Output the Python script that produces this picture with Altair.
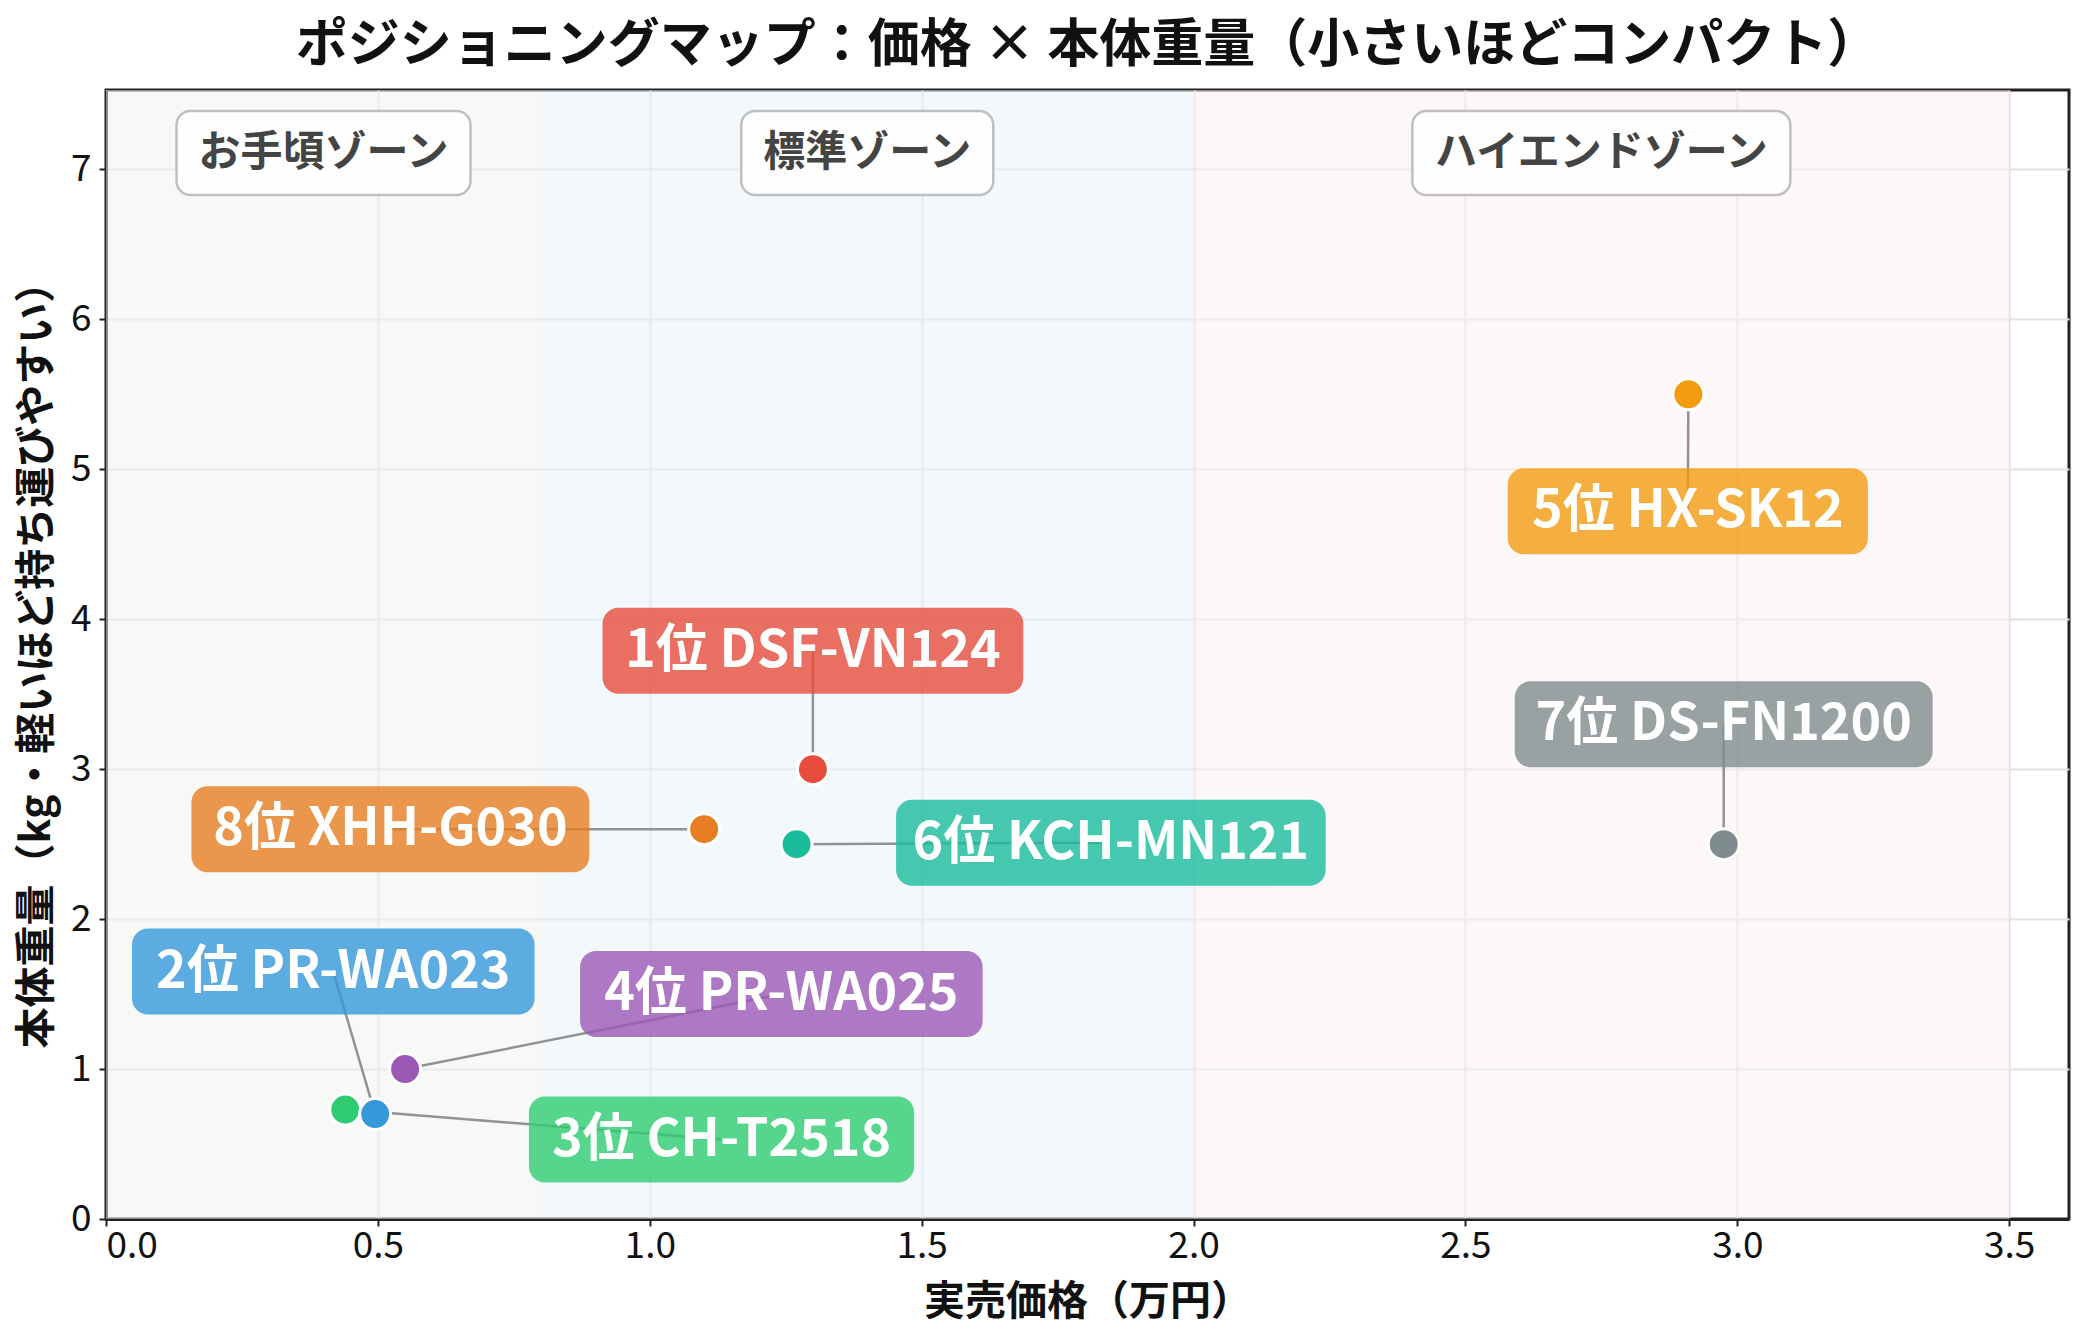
import altair as alt
import pandas as pd

# ---------------- data ----------------
ranks = ["1位", "2位", "3位", "4位", "5位", "6位", "7位", "8位"]
models = ["DSF-VN124", "PR-WA023", "CH-T2518", "PR-WA025", "HX-SK12", "KCH-MN121", "DS-FN1200", "XHH-G030"]
price = [1.30, 0.495, 0.44, 0.55, 2.91, 1.27, 2.975, 1.10]          # 万円
weight = [3.0, 0.70, 0.73, 1.0, 5.5, 2.5, 2.5, 2.6]                 # kg
label_x = [1.30, 0.418, 1.132, 1.242, 2.909, 1.848, 2.975, 0.523]
label_y = [3.79, 1.65, 0.53, 1.50, 4.72, 2.51, 3.30, 2.60]
colors = ["#e74c3c", "#3498db", "#2ecc71", "#9b59b6", "#f39c12", "#1abc9c", "#7f8c8d", "#e67e22"]

zone_names = ["お手頃ゾーン", "標準ゾーン", "ハイエンドゾーン"]
zone_start = [0.0, 0.8, 2.0]
zone_end = [0.8, 2.0, 3.5]
zone_label_x = [0.40, 1.40, 2.75]
zone_label_y = [7.11, 7.11, 7.11]
zone_fill = ["#eff4ef", "#e7f1fa", "#fbefef"]

x_ticks = [0.0, 0.5, 1.0, 1.5, 2.0, 2.5, 3.0, 3.5]
y_ticks = [0, 1, 2, 3, 4, 5, 6, 7]
x_domain = [0, 3.61]
y_domain = [0, 7.53]

title_text = "ポジショニングマップ：価格 × 本体重量（小さいほどコンパクト）"
x_title = "実売価格（万円）"
y_title = "本体重量（kg・軽いほど持ち運びやすい）"

# ---------------- layout / style ----------------
W, H = 1963, 1129
FONT = "Noto Sans CJK JP"
LABEL_FS = 52
ZONE_FS = 42

df = pd.DataFrame({
    "rank": ranks, "model": models, "price": price, "weight": weight,
    "lx": label_x, "ly": label_y,
})
df["label"] = df["rank"] + " " + df["model"]

zones = pd.DataFrame({
    "zone": zone_names, "zs": zone_start, "ze": zone_end,
    "zx": zone_label_x, "zy": zone_label_y, "fill": zone_fill,
})

LAT = {"D": .70, "S": .62, "F": .57, "V": .63, "N": .72, "P": .65, "R": .66, "W": .92,
       "A": .66, "C": .67, "H": .73, "T": .58, "X": .63, "K": .67, "G": .71, "-": .36, " ": .23}


def text_w(s, fs):
    w = 0.0
    for ch in s:
        if ch.isdigit():
            w += .575
        elif ch in LAT:
            w += LAT[ch]
        elif ord(ch) < 128:
            w += .62
        else:
            w += 1.0
    return w * fs


xscale = alt.Scale(domain=x_domain, nice=False, zero=False)
yscale = alt.Scale(domain=y_domain, nice=False, zero=False)
xaxis = alt.Axis(values=x_ticks, format=".1f", title=x_title, grid=True)
yaxis = alt.Axis(values=y_ticks, format="d", title=y_title, grid=True)


def X(f):
    return alt.X(f, type="quantitative", scale=xscale, axis=xaxis)


def Y(f):
    return alt.Y(f, type="quantitative", scale=yscale, axis=yaxis)


layers = []

# zone backgrounds
layers.append(
    alt.Chart(zones).mark_rect(opacity=0.5).encode(
        x=X("zs"), x2="ze",
        fill=alt.Fill("fill:N", scale=None),
    )
)

# zone label boxes + text
for i in range(len(zone_names)):
    bw = text_w(zone_names[i], ZONE_FS) + ZONE_FS
    layers.append(
        alt.Chart(zones.iloc[[i]]).mark_rect(
            width=bw, height=84, cornerRadius=14, fill="white",
            stroke="#bdbdbd", strokeWidth=2.5, opacity=0.95,
        ).encode(x=X("zx"), y=Y("zy"))
    )
layers.append(
    alt.Chart(zones).mark_text(
        font=FONT, fontSize=ZONE_FS, fontWeight="bold", color="#444444",
        align="center", baseline="middle",
    ).encode(x=X("zx"), y=Y("zy"), text="zone:N")
)

# leader lines
layers.append(
    alt.Chart(df).mark_rule(color="#808080", strokeWidth=2.5, opacity=0.85).encode(
        x=X("price"), y=Y("weight"), x2="lx", y2="ly",
    )
)

# label boxes
for i in range(len(ranks)):
    bw = text_w(df.loc[i, "label"], LABEL_FS) + 50
    layers.append(
        alt.Chart(df.iloc[[i]]).mark_rect(
            width=bw, height=86, cornerRadius=16, color=colors[i], opacity=0.8,
        ).encode(x=X("lx"), y=Y("ly"))
    )

# label text
layers.append(
    alt.Chart(df).mark_text(
        font=FONT, fontSize=LABEL_FS, fontWeight="bold", color="white",
        align="center", baseline="middle",
    ).encode(x=X("lx"), y=Y("ly"), text="label:N")
)

# points (drawn in reverse rank order so higher ranks sit on top)
layers.append(
    alt.Chart(df.iloc[::-1]).mark_point(
        filled=True, size=960, opacity=1, stroke="white", strokeWidth=3,
    ).encode(
        x=X("price"), y=Y("weight"),
        fill=alt.Fill("rank:N", scale=alt.Scale(domain=ranks, range=colors), legend=None),
    )
)

chart = alt.layer(*layers).properties(
    width=W, height=H,
    title=alt.TitleParams(title_text, font=FONT, fontSize=52, fontWeight="bold",
                          color="#111111", anchor="middle", offset=17),
    autosize=alt.AutoSizeParams(type="none"),
    padding={"left": 106, "top": 90, "right": 15, "bottom": 115},
).configure_view(
    stroke="#222222", strokeWidth=3,
).configure_axis(
    domainColor="#222222", domainWidth=3,
    tickColor="#222222", tickWidth=2, tickSize=7,
    labelFont=FONT, labelFontSize=37, labelColor="#111111",
    titleFont=FONT, titleFontSize=41, titleFontWeight="bold", titleColor="#111111",
    gridColor="#e2e2e2", gridWidth=2,
).configure_axisX(
    labelPadding=2, titlePadding=18,
).configure_axisY(
    labelPadding=8, titlePadding=12,
)

chart.save("out.html", embed_options={"renderer": "svg", "actions": False})
